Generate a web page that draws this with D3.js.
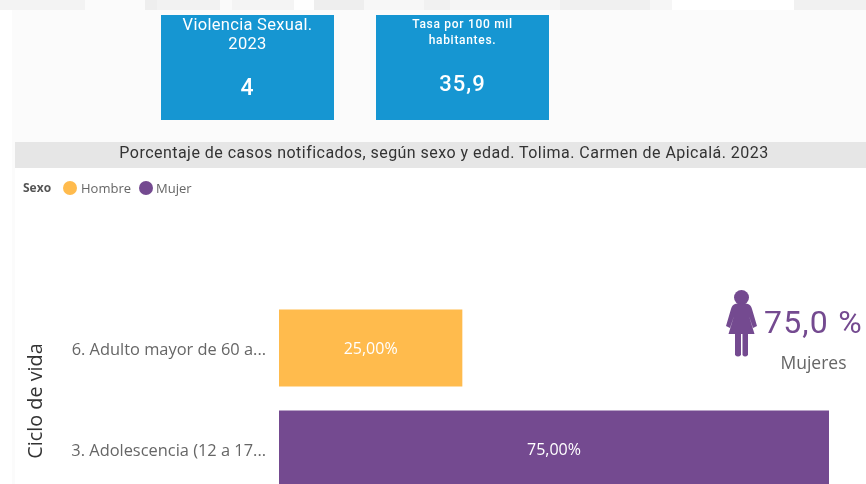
<!DOCTYPE html>
<html><head><meta charset="utf-8">
<script src="https://cdn.jsdelivr.net/npm/d3@7"></script>
<style>html,body{margin:0;padding:0;background:#fff;overflow:hidden}svg{display:block;filter:blur(0.35px)}</style>
</head><body><svg id="c" width="866" height="484"></svg>
<script>
const categories = ["6. Adulto mayor de 60 a...", "3. Adolescencia (12 a 17..."];
const series = ["Hombre", "Mujer"];
const seriesOfCategory = ["Hombre", "Mujer"];
const values = [25, 75];
const seriesColors = ["#FFBB4D", "#744A90"];
const cardTitles = [["Violencia Sexual.", "2023"], ["Tasa por 100 mil", "habitantes."]];
const cardValues = ["4", "35,9"];
const chartTitle = "Porcentaje de casos notificados, según sexo y edad. Tolima. Carmen de Apicalá. 2023";
const din = "Roboto, 'DejaVu Sans', sans-serif";
const seg = "'Open Sans', 'Noto Sans', sans-serif";

const svg = d3.select("#c");
// page
svg.append("rect").attr("x",12).attr("y",10).attr("width",854).attr("height",474).attr("fill","#FBFBFB");
svg.append("rect").attr("x",15).attr("y",168).attr("width",851).attr("height",316).attr("fill","#FFFFFF");
// blurred strip at the very top
const strip = [[0,85,"#F3F3F3"],[85,60,"#FBFBFB"],[145,12,"#EEEEEE"],[157,63,"#F2F2F2"],[220,12,"#FAFAFA"],[232,62,"#F4F4F4"],[294,20,"#FEFEFE"],[314,50,"#EEEEEE"],[364,60,"#F7F7F7"],[424,26,"#F1F1F1"],[450,110,"#F5F5F5"],[560,90,"#F0F0F0"],[650,22,"#F6F6F6"],[740,54,"#FFFFFF"],[794,72,"#F1F1F1"]];
svg.append("g").selectAll("rect").data(strip).join("rect")
  .attr("x",d=>d[0]).attr("y",0).attr("width",d=>d[1]).attr("height",10).attr("fill",d=>d[2]);

// cards
const cardX = d3.scaleOrdinal().domain([0,1]).range([161,376]);
const cards = svg.append("g").selectAll("g").data(cardTitles).join("g")
  .attr("transform",(d,i)=>`translate(${cardX(i)},15)`);
cards.append("rect").attr("width",173).attr("height",105).attr("fill","#1696D2");
const cardStyle = [{fs:16.5,ls:0.3,ys:[15,34],vs:23,vy:80},{fs:12,ls:0.7,ys:[13,29],vs:22,vy:76}];
cards.each(function(d,i){
  const g = d3.select(this), s = cardStyle[i];
  d.forEach((t,j)=>g.append("text").attr("x",86.5).attr("y",s.ys[j]).attr("text-anchor","middle")
    .attr("font-family",din).attr("font-size",s.fs).attr("font-weight",i?500:400).attr("letter-spacing",s.ls).attr("fill","#fff").text(t));
  g.append("text").attr("x",86.5).attr("y",s.vy).attr("text-anchor","middle").attr("font-family",din)
    .attr("font-size",s.vs).attr("font-weight",500).attr("letter-spacing",1).attr("fill","#fff").text(cardValues[i]);
});

// title band
svg.append("rect").attr("x",15).attr("y",142).attr("width",851).attr("height",26).attr("fill","#E6E6E6");
svg.append("text").attr("x",444).attr("y",158).attr("text-anchor","middle").attr("font-family",din)
  .attr("font-size",16).attr("font-weight",400).attr("letter-spacing",0.47).attr("fill","#333").text(chartTitle);

// legend
const lg = svg.append("g");
lg.append("text").attr("x",23).attr("y",192).attr("font-family",seg).attr("font-size",12).attr("font-weight",700).attr("fill","#555").text("Sexo");
const lx = d3.scaleOrdinal().domain(series).range([70,146]);
const li = lg.selectAll("g").data(series).join("g").attr("transform",d=>`translate(${lx(d)},188)`);
li.append("circle").attr("r",7).attr("fill",(d,i)=>seriesColors[i]);
li.append("text").attr("x",(d,i)=>i?10:11).attr("y",4.5).attr("font-family",seg).attr("font-size",13).attr("fill","#666").text(d=>d);

// bars
const x = d3.scaleLinear().domain([0,75]).range([279,829]);
const y = d3.scaleBand().domain(categories).range([297.5,499.5]).paddingInner(24/101).paddingOuter(12/101);
const color = d3.scaleOrdinal().domain(series).range(seriesColors);
svg.append("g").selectAll("rect").data(categories).join("rect")
  .attr("x",x(0)).attr("y",d=>y(d)).attr("height",y.bandwidth())
  .attr("width",(d,i)=>x(values[i])-x(0)).attr("fill",(d,i)=>color(seriesOfCategory[i]));
svg.append("g").selectAll("text").data(categories).join("text")
  .attr("x",(d,i)=>(x(0)+x(values[i]))/2).attr("y",d=>y(d)+y.bandwidth()/2+5.5)
  .attr("text-anchor","middle").attr("font-family",seg).attr("font-size",16).attr("fill","#fff")
  .text((d,i)=>d3.format(".2f")(values[i]).replace(".",",")+"%");

// category axis
const ax = svg.append("g").attr("transform","translate(279,0)")
  .call(d3.axisLeft(y).tickSize(0).tickPadding(13));
ax.select(".domain").remove();
ax.selectAll("text").attr("font-family",seg).attr("font-size",16.4).attr("fill","#666").attr("dy","0.42em");
svg.append("text").attr("transform","translate(42,401) rotate(-90)").attr("text-anchor","middle")
  .attr("font-family",seg).attr("font-size",19.8).attr("fill","#333").text("Ciclo de vida");

// KPI with icon
const ic = svg.append("g").attr("transform","translate(726,290)").attr("fill","#744A90");
ic.append("circle").attr("cx",15.5).attr("cy",7.5).attr("r",7.5);
ic.append("path").attr("d","M9,14 Q15.5,12 22,14 Q25,15 26,19 L31,36 L27,38 L23,26 L28.5,44 L22,44 L22,65 Q19,68 16.5,65 L16.5,44 L15,44 L15,65 Q12,68 9,65 L9,44 L2.5,44 L8,26 L4,38 L0,36 L5,19 Q6,15 9,14 Z");
svg.append("text").attr("x",764).attr("y",333).attr("font-family",din).attr("font-size",32).attr("font-weight",400).attr("letter-spacing",1.2).attr("fill","#744A90").text("75,0 %");
svg.append("text").attr("x",813.5).attr("y",368.5).attr("text-anchor","middle").attr("font-family",seg).attr("font-size",17.5).attr("fill","#666").text("Mujeres");
</script></body></html>
